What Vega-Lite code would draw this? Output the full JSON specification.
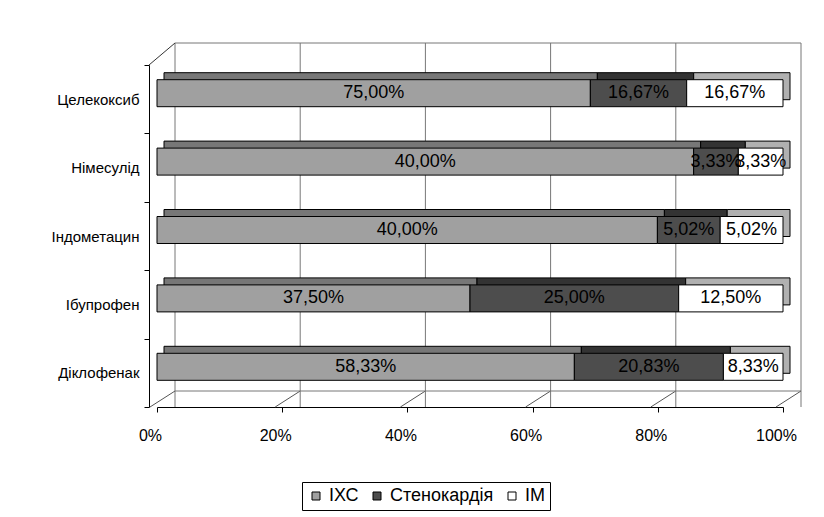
{
  "$schema": "https://vega.github.io/schema/vega-lite/v6.json",
  "width": 626,
  "height": 342,
  "autosize": {"type": "none"},
  "padding": {"left": 157, "top": 65, "right": 41, "bottom": 110},
  "background": "white",
  "config": {
    "font": "Liberation Sans",
    "view": {"stroke": null},
    "locale": {"number": {"decimal": ",", "thousands": " ", "grouping": [3], "currency": ["", ""]}}
  },
  "datasets": {
    "bars": [
      {"drug": "Целекоксиб", "series": "ІХС", "k": 1, "value": 75.00},
      {"drug": "Целекоксиб", "series": "Стенокардія", "k": 2, "value": 16.67},
      {"drug": "Целекоксиб", "series": "ІМ", "k": 3, "value": 16.67},
      {"drug": "Німесулід", "series": "ІХС", "k": 1, "value": 40.00},
      {"drug": "Німесулід", "series": "Стенокардія", "k": 2, "value": 3.33},
      {"drug": "Німесулід", "series": "ІМ", "k": 3, "value": 3.33},
      {"drug": "Індометацин", "series": "ІХС", "k": 1, "value": 40.00},
      {"drug": "Індометацин", "series": "Стенокардія", "k": 2, "value": 5.02},
      {"drug": "Індометацин", "series": "ІМ", "k": 3, "value": 5.02},
      {"drug": "Ібупрофен", "series": "ІХС", "k": 1, "value": 37.50},
      {"drug": "Ібупрофен", "series": "Стенокардія", "k": 2, "value": 25.00},
      {"drug": "Ібупрофен", "series": "ІМ", "k": 3, "value": 12.50},
      {"drug": "Діклофенак", "series": "ІХС", "k": 1, "value": 58.33},
      {"drug": "Діклофенак", "series": "Стенокардія", "k": 2, "value": 20.83},
      {"drug": "Діклофенак", "series": "ІМ", "k": 3, "value": 8.33}
    ],
    "grid": [{"g": 0}, {"g": 0.2}, {"g": 0.4}, {"g": 0.6}, {"g": 0.8}, {"g": 1}],
    "edge": [{"a": 0, "b": 1}]
  },
  "resolve": {"scale": {"color": "independent"}},
  "layer": [
    {
      "data": {"name": "grid"},
      "mark": {"type": "rule", "color": "#777777", "strokeWidth": 1, "xOffset": 18, "yOffset": -22, "y2Offset": -16},
      "encoding": {
        "x": {"field": "g", "type": "quantitative", "scale": {"domain": [0, 1], "nice": false},
          "axis": {"title": null, "format": ".0%", "values": [0, 0.2, 0.4, 0.6, 0.8, 1], "grid": false, "domainColor": "black", "tickColor": "black", "tickSize": 5, "labelPadding": 15, "labelOffset": -7, "labelFontSize": 16, "labelColor": "black", "labelFont": "Liberation Sans", "labelFlush": false}}
      }
    },
    {
      "data": {"name": "grid"},
      "mark": {"type": "rule", "color": "#555555", "strokeWidth": 1, "xOffset": -7, "x2Offset": 18, "y2Offset": -16},
      "encoding": {
        "x": {"field": "g", "type": "quantitative"},
        "x2": {"field": "g"},
        "y": {"datum": "Діклофенак", "type": "nominal", "bandPosition": 1},
        "y2": {"datum": "Діклофенак", "bandPosition": 1}
      }
    },
    {
      "data": {"name": "edge"},
      "mark": {"type": "rule", "color": "#777777", "strokeWidth": 1, "xOffset": 18, "x2Offset": 18, "yOffset": -22},
      "encoding": {
        "x": {"field": "a", "type": "quantitative"},
        "x2": {"field": "b"},
        "y": {"datum": "Целекоксиб", "type": "nominal", "bandPosition": 0}
      }
    },
    {
      "data": {"name": "edge"},
      "mark": {"type": "rule", "color": "#777777", "strokeWidth": 1, "xOffset": 18, "x2Offset": 18, "yOffset": -16},
      "encoding": {
        "x": {"field": "a", "type": "quantitative"},
        "x2": {"field": "b"},
        "y": {"datum": "Діклофенак", "type": "nominal", "bandPosition": 1}
      }
    },
    {
      "data": {"name": "edge"},
      "mark": {"type": "rule", "color": "#333333", "strokeWidth": 1, "xOffset": -8, "x2Offset": 18, "y2Offset": -22},
      "encoding": {
        "x": {"field": "a", "type": "quantitative"},
        "x2": {"field": "a"},
        "y": {"datum": "Целекоксиб", "type": "nominal", "bandPosition": 0},
        "y2": {"datum": "Целекоксиб", "bandPosition": 0}
      }
    },
    {
      "data": {"name": "bars"},
      "transform": [
        {"stack": "value", "groupby": ["drug"], "sort": [{"field": "k", "order": "ascending"}], "offset": "normalize", "as": ["x0", "x1"]}
      ],
      "mark": {"type": "bar", "height": 27, "xOffset": 7, "x2Offset": 7, "yOffset": -13, "stroke": "black", "strokeWidth": 1},
      "encoding": {
        "y": {"field": "drug", "type": "nominal", "sort": ["Целекоксиб", "Німесулід", "Індометацин", "Ібупрофен", "Діклофенак"], "scale": {"paddingInner": 0, "paddingOuter": 0},
          "axis": {"title": null, "offset": 8, "tickBand": "extent", "domainColor": "black", "tickColor": "black", "tickSize": 5, "labelPadding": 5, "labelFontSize": 15, "labelColor": "black", "labelFont": "Liberation Sans"}},
        "x": {"field": "x0", "type": "quantitative", "scale": {"domain": [0, 1], "nice": false},
          "axis": {"title": null, "format": ".0%", "values": [0, 0.2, 0.4, 0.6, 0.8, 1], "grid": false, "domainColor": "black", "tickColor": "black", "tickSize": 5, "labelPadding": 15, "labelOffset": -7, "labelFontSize": 16, "labelColor": "black", "labelFont": "Liberation Sans", "labelFlush": false}},
        "x2": {"field": "x1"},
        "color": {"field": "series", "type": "nominal", "scale": {"domain": ["ІХС", "Стенокардія", "ІМ"], "range": ["#777777", "#333333", "#b0b0b0"]}, "legend": null}
      }
    },
    {
      "data": {"name": "bars"},
      "transform": [
        {"stack": "value", "groupby": ["drug"], "sort": [{"field": "k", "order": "ascending"}], "offset": "normalize", "as": ["x0", "x1"]}
      ],
      "mark": {"type": "bar", "height": 27, "yOffset": -6, "stroke": "black", "strokeWidth": 1},
      "encoding": {
        "y": {
          "field": "drug", "type": "nominal",
          "sort": ["Целекоксиб", "Німесулід", "Індометацин", "Ібупрофен", "Діклофенак"],
          "scale": {"paddingInner": 0, "paddingOuter": 0},
          "axis": {"title": null, "offset": 8, "tickBand": "extent", "domainColor": "black", "tickColor": "black", "tickSize": 5, "labelPadding": 5, "labelFontSize": 15, "labelColor": "black", "labelFont": "Liberation Sans"}
        },
        "x": {
          "field": "x0", "type": "quantitative",
          "scale": {"domain": [0, 1], "nice": false},
          "axis": {"title": null, "format": ".0%", "values": [0, 0.2, 0.4, 0.6, 0.8, 1], "grid": false, "domainColor": "black", "tickColor": "black", "tickSize": 5, "labelPadding": 15, "labelOffset": -7, "labelFontSize": 16, "labelColor": "black", "labelFont": "Liberation Sans", "labelFlush": false}
        },
        "x2": {"field": "x1"},
        "color": {
          "field": "series", "type": "nominal",
          "scale": {"domain": ["ІХС", "Стенокардія", "ІМ"], "range": ["#a0a0a0", "#4d4d4d", "#ffffff"]},
          "legend": {"title": null, "orient": "none", "legendX": 145, "legendY": 417, "direction": "horizontal", "symbolType": "square", "symbolSize": 64, "symbolStrokeColor": "black", "symbolStrokeWidth": 1, "labelFontSize": 18, "labelColor": "black", "labelFont": "Liberation Sans", "strokeColor": "black", "padding": 5, "columnPadding": 9, "labelOffset": 4}
        }
      }
    },
    {
      "data": {"name": "bars"},
      "transform": [
        {"stack": "value", "groupby": ["drug"], "sort": [{"field": "k", "order": "ascending"}], "offset": "normalize", "as": ["x0", "x1"]},
        {"calculate": "(datum.x0 + datum.x1) / 2", "as": "mid"},
        {"calculate": "datum.value / 100", "as": "p"}
      ],
      "mark": {"type": "text", "fontSize": 18, "color": "black", "yOffset": -6, "font": "Liberation Sans"},
      "encoding": {
        "y": {"field": "drug", "type": "nominal", "sort": ["Целекоксиб", "Німесулід", "Індометацин", "Ібупрофен", "Діклофенак"],
          "axis": {"title": null, "offset": 8, "tickBand": "extent", "domainColor": "black", "tickColor": "black", "tickSize": 5, "labelPadding": 5, "labelFontSize": 15, "labelColor": "black", "labelFont": "Liberation Sans"}},
        "x": {"field": "mid", "type": "quantitative",
          "axis": {"title": null, "format": ".0%", "values": [0, 0.2, 0.4, 0.6, 0.8, 1], "grid": false, "domainColor": "black", "tickColor": "black", "tickSize": 5, "labelPadding": 15, "labelOffset": -7, "labelFontSize": 16, "labelColor": "black", "labelFont": "Liberation Sans", "labelFlush": false}},
        "text": {"field": "p", "type": "quantitative", "format": ".2%"}
      }
    }
  ]
}
